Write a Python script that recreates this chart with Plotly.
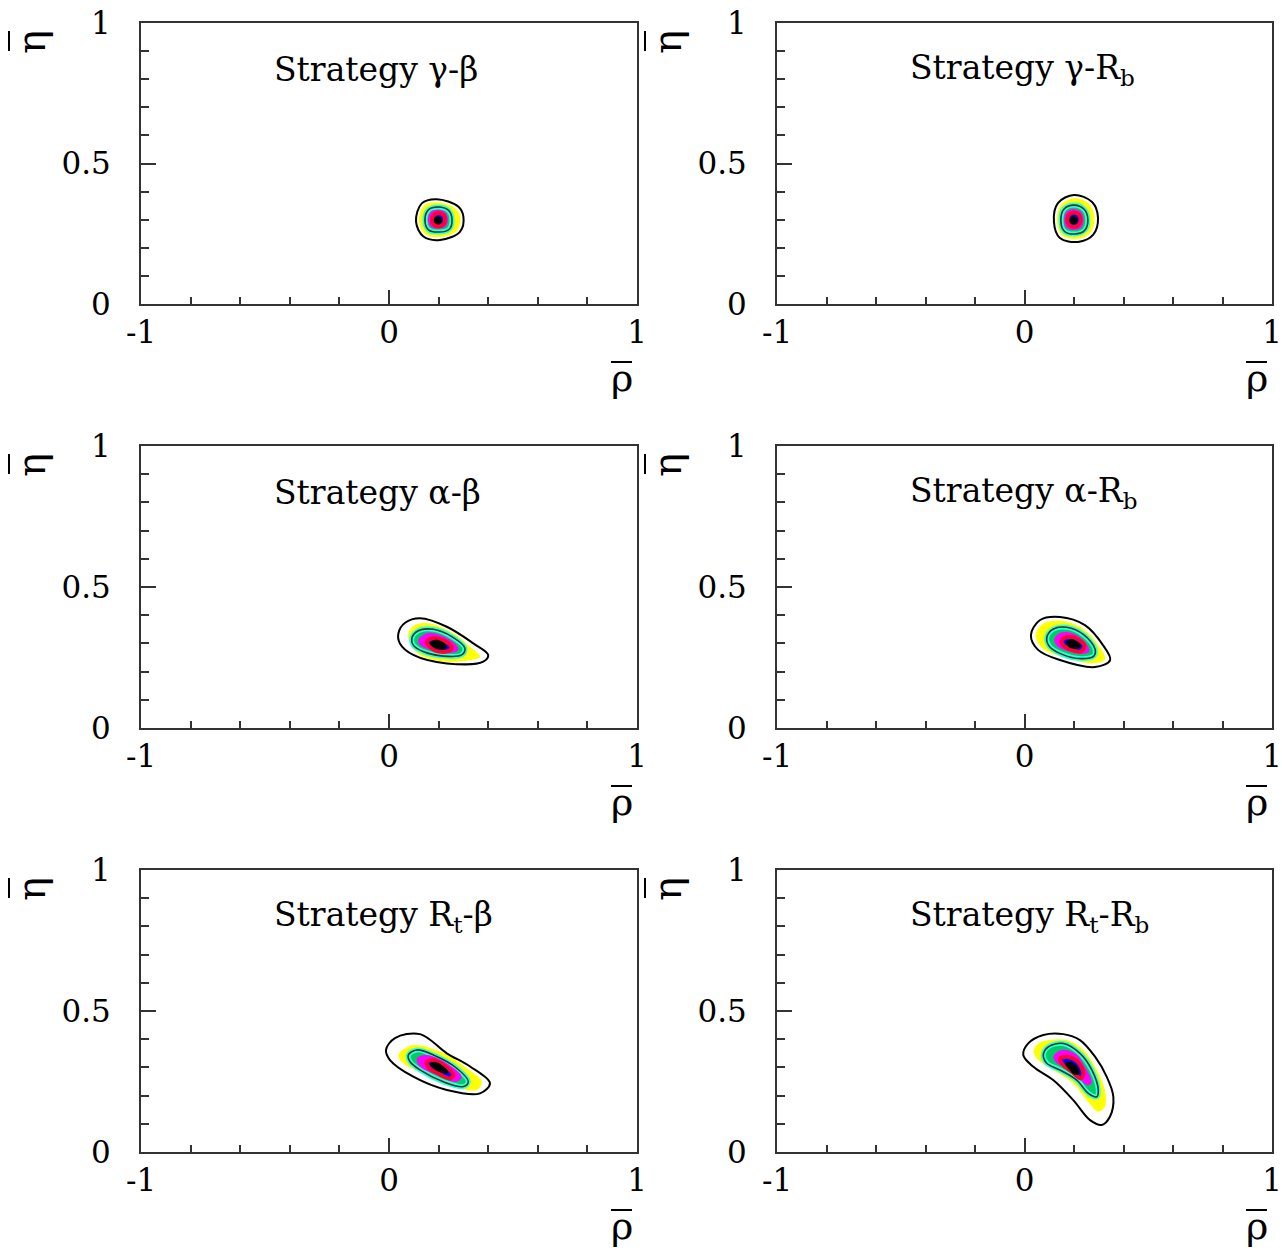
import plotly.graph_objects as go

# ---------------- data (data coordinates rho-bar / eta-bar) ----------------
titles = ["Strategy γ-β", "Strategy γ-R<sub>b</sub>",
          "Strategy α-β", "Strategy α-R<sub>b</sub>",
          "Strategy R<sub>t</sub>-β", "Strategy R<sub>t</sub>-R<sub>b</sub>"]

x_tickvals = [-1, 0, 1]
x_ticktext = ["-1", "0", "1"]
x_minor = [-0.8, -0.6, -0.4, -0.2, 0.2, 0.4, 0.6, 0.8]
y_tickvals = [0, 0.5, 1]
y_ticktext = ["0", "0.5", "1"]
y_minor = [0.1, 0.2, 0.3, 0.4, 0.6, 0.7, 0.8, 0.9]

# panel 1: gamma-beta
gb_outer = [(0.192, 0.373), (0.279, 0.347), (0.300, 0.311), (0.286, 0.257), (0.206, 0.228), (0.139, 0.240), (0.109, 0.293), (0.132, 0.358)]
gb_yellow = [(0.194, 0.362), (0.268, 0.340), (0.287, 0.309), (0.275, 0.262), (0.205, 0.238), (0.146, 0.249), (0.121, 0.294), (0.140, 0.350)]
gb_68 = [(0.198, 0.345), (0.240, 0.333), (0.254, 0.300), (0.243, 0.266), (0.200, 0.256), (0.158, 0.265), (0.145, 0.300), (0.158, 0.334)]
gb_mag = [(0.197, 0.335), (0.229, 0.325), (0.238, 0.300), (0.229, 0.276), (0.197, 0.268), (0.166, 0.277), (0.157, 0.302), (0.167, 0.326)]
gb_blue = [(0.199, 0.324), (0.220, 0.316), (0.226, 0.300), (0.219, 0.283), (0.199, 0.276), (0.179, 0.284), (0.173, 0.300), (0.180, 0.316)]
gb_core = [(0.197, 0.312), (0.211, 0.305), (0.214, 0.297), (0.207, 0.286), (0.196, 0.284), (0.184, 0.289), (0.180, 0.298), (0.186, 0.308)]

# panel 2: gamma-Rb
gr_outer = [(0.200, 0.388), (0.273, 0.363), (0.297, 0.306), (0.277, 0.246), (0.216, 0.221), (0.143, 0.235), (0.119, 0.292), (0.135, 0.359)]
gr_yellow = [(0.201, 0.376), (0.262, 0.355), (0.283, 0.304), (0.266, 0.254), (0.214, 0.232), (0.152, 0.245), (0.131, 0.294), (0.146, 0.350)]
gr_68 = [(0.200, 0.352), (0.241, 0.337), (0.256, 0.300), (0.243, 0.262), (0.202, 0.249), (0.160, 0.260), (0.147, 0.300), (0.160, 0.338)]
gr_mag = [(0.199, 0.338), (0.229, 0.327), (0.239, 0.300), (0.230, 0.272), (0.200, 0.263), (0.169, 0.272), (0.160, 0.300), (0.170, 0.328)]
gr_blue = [(0.200, 0.326), (0.220, 0.318), (0.227, 0.300), (0.220, 0.282), (0.200, 0.274), (0.180, 0.282), (0.173, 0.300), (0.180, 0.318)]
gr_core = [(0.199, 0.313), (0.212, 0.307), (0.215, 0.297), (0.208, 0.286), (0.197, 0.283), (0.185, 0.289), (0.181, 0.298), (0.187, 0.309)]

# panel 3: alpha-beta
ab_outer = [(0.038, 0.336), (0.065, 0.373), (0.125, 0.389), (0.233, 0.359), (0.340, 0.300), (0.400, 0.259), (0.380, 0.235), (0.233, 0.229), (0.098, 0.259), (0.044, 0.300)]
ab_yellow = [(0.078, 0.336), (0.105, 0.365), (0.165, 0.371), (0.260, 0.336), (0.327, 0.288), (0.367, 0.253), (0.327, 0.241), (0.233, 0.235), (0.125, 0.259), (0.085, 0.300)]
ab_68 = [(0.092, 0.318), (0.118, 0.345), (0.179, 0.350), (0.253, 0.324), (0.306, 0.283), (0.293, 0.259), (0.219, 0.255), (0.138, 0.271), (0.098, 0.294)]
ab_mag = [(0.118, 0.312), (0.152, 0.336), (0.206, 0.330), (0.266, 0.300), (0.280, 0.277), (0.233, 0.265), (0.165, 0.277), (0.125, 0.294)]
ab_blue = [(0.152, 0.305), (0.175, 0.318), (0.225, 0.308), (0.253, 0.285), (0.235, 0.272), (0.185, 0.275)]
ab_core = [(0.165, 0.302), (0.190, 0.313), (0.225, 0.300), (0.233, 0.285), (0.205, 0.278), (0.175, 0.288)]

# panel 4: alpha-Rb
ar_outer = [(0.026, 0.330), (0.063, 0.383), (0.143, 0.394), (0.244, 0.365), (0.317, 0.294), (0.346, 0.241), (0.285, 0.216), (0.143, 0.241), (0.055, 0.277)]
ar_yellow = [(0.045, 0.330), (0.075, 0.370), (0.145, 0.380), (0.235, 0.353), (0.300, 0.292), (0.325, 0.245), (0.280, 0.230), (0.150, 0.253), (0.070, 0.285)]
ar_68 = [(0.090, 0.320), (0.115, 0.350), (0.170, 0.357), (0.240, 0.330), (0.285, 0.280), (0.280, 0.255), (0.230, 0.246), (0.150, 0.262), (0.100, 0.290)]
ar_mag = [(0.120, 0.315), (0.145, 0.338), (0.195, 0.336), (0.245, 0.305), (0.262, 0.272), (0.230, 0.262), (0.175, 0.272), (0.130, 0.292)]
ar_blue = [(0.150, 0.310), (0.175, 0.323), (0.215, 0.315), (0.242, 0.290), (0.228, 0.272), (0.190, 0.277), (0.158, 0.292)]
ar_core = [(0.168, 0.305), (0.190, 0.315), (0.220, 0.302), (0.228, 0.288), (0.205, 0.280), (0.178, 0.288)]

# panel 5: Rt-beta
tb_outer = [(-0.012, 0.362), (0.024, 0.404), (0.125, 0.418), (0.233, 0.350), (0.327, 0.303), (0.407, 0.244), (0.367, 0.208), (0.233, 0.220), (0.098, 0.267), (0.004, 0.326)]
tb_yellow = [(0.038, 0.344), (0.098, 0.379), (0.206, 0.356), (0.313, 0.297), (0.374, 0.249), (0.354, 0.220), (0.260, 0.232), (0.138, 0.279), (0.058, 0.315)]
tb_68 = [(0.078, 0.344), (0.112, 0.362), (0.179, 0.344), (0.273, 0.297), (0.320, 0.249), (0.300, 0.232), (0.219, 0.249), (0.125, 0.291), (0.085, 0.320)]
tb_mag = [(0.112, 0.332), (0.152, 0.344), (0.233, 0.315), (0.293, 0.267), (0.273, 0.249), (0.192, 0.273), (0.125, 0.303)]
tb_blue = [(0.152, 0.318), (0.175, 0.326), (0.225, 0.305), (0.260, 0.272), (0.245, 0.261), (0.195, 0.280), (0.160, 0.300)]
tb_core = [(0.165, 0.312), (0.185, 0.320), (0.225, 0.300), (0.239, 0.282), (0.220, 0.279), (0.180, 0.295)]

# panel 6: Rt-Rb
tr_outer = [(-0.005, 0.344), (0.015, 0.385), (0.076, 0.415), (0.157, 0.418), (0.224, 0.397), (0.285, 0.338), (0.332, 0.267), (0.359, 0.196), (0.345, 0.125), (0.312, 0.096), (0.265, 0.113), (0.197, 0.184), (0.116, 0.255), (0.036, 0.302)]
tr_yellow = [(0.036, 0.356), (0.056, 0.385), (0.103, 0.397), (0.171, 0.397), (0.238, 0.362), (0.292, 0.291), (0.325, 0.220), (0.325, 0.161), (0.298, 0.143), (0.251, 0.184), (0.197, 0.244), (0.116, 0.291), (0.056, 0.326)]
tr_68 = [(0.076, 0.344), (0.096, 0.373), (0.157, 0.385), (0.224, 0.350), (0.272, 0.291), (0.298, 0.220), (0.292, 0.196), (0.258, 0.208), (0.211, 0.255), (0.143, 0.291), (0.090, 0.315)]
tr_mag = [(0.116, 0.338), (0.150, 0.362), (0.204, 0.350), (0.244, 0.303), (0.272, 0.244), (0.251, 0.238), (0.217, 0.267), (0.171, 0.297), (0.130, 0.315)]
tr_blue = [(0.143, 0.330), (0.170, 0.338), (0.215, 0.320), (0.238, 0.280), (0.228, 0.261), (0.195, 0.282), (0.155, 0.310)]
tr_core = [(0.164, 0.315), (0.185, 0.320), (0.215, 0.300), (0.224, 0.278), (0.205, 0.273), (0.175, 0.298)]

panels = [
    (gb_outer, gb_yellow, gb_68, gb_mag, gb_blue, gb_core),
    (gr_outer, gr_yellow, gr_68, gr_mag, gr_blue, gr_core),
    (ab_outer, ab_yellow, ab_68, ab_mag, ab_blue, ab_core),
    (ar_outer, ar_yellow, ar_68, ar_mag, ar_blue, ar_core),
    (tb_outer, tb_yellow, tb_68, tb_mag, tb_blue, tb_core),
    (tr_outer, tr_yellow, tr_68, tr_mag, tr_blue, tr_core),
]

# ---------------- layout geometry ----------------
W, H = 1282, 1259
col_px = [(141, 637), (777, 1272)]
row_px = [(23, 304), (446, 728), (870, 1152)]

FONT = "DejaVu Serif, Liberation Serif, serif"

fig = go.Figure()


def closed(pts):
    xs = [p[0] for p in pts] + [pts[0][0]]
    ys = [p[1] for p in pts] + [pts[0][1]]
    return xs, ys


annotations = []
shapes = []
for i, layers in enumerate(panels):
    r, c = divmod(i, 2)
    n = "" if i == 0 else str(i + 1)
    xa, ya = "x" + n, "y" + n
    outer, yel, c68, mag, blue, core = layers

    def add(pts, fillcolor=None, linecolor="rgba(0,0,0,0)", width=0):
        xs, ys = closed(pts)
        fig.add_trace(go.Scatter(
            x=xs, y=ys, xaxis=xa, yaxis=ya, mode="lines",
            fill="toself" if fillcolor else "none",
            fillcolor=fillcolor,
            line=dict(color=linecolor, width=width, shape="spline", smoothing=1.0),
            hoverinfo="skip", showlegend=False))

    add(yel, "#ffff00")
    add(c68, "#00cc66", "#33ffdd", 5)
    add(mag, "#ff00ff")
    add(blue, "#0000ff", "#ff0033", 4)
    add(core, "#000000")
    add(c68, None, "#0b3d2a", 1.6)
    add(outer, None, "#000000", 2)

    x0, x1 = col_px[c]
    y0, y1 = row_px[r]
    axis_common = dict(showgrid=False, zeroline=False, showline=True, linecolor="#333333",
                       linewidth=2, mirror=True, ticks="inside", tickcolor="#333333",
                       tickwidth=1.5, tickmode="array", automargin=False,
                       tickfont=dict(family=FONT, size=31, color="#000000"))
    fig.layout["xaxis" + n] = dict(
        axis_common, domain=[x0 / W, x1 / W], anchor=ya, range=[-1, 1],
        tickvals=x_tickvals, ticktext=x_ticktext, ticklen=14, ticklabelstandoff=0,
        minor=dict(tickmode="array", tickvals=x_minor, ticks="inside", ticklen=7,
                   tickcolor="#333333", tickwidth=1.5))
    fig.layout["yaxis" + n] = dict(
        axis_common, domain=[1 - y1 / H, 1 - y0 / H], anchor=xa, range=[0, 1],
        tickvals=y_tickvals, ticktext=y_ticktext, ticklen=15, ticklabelstandoff=22,
        minor=dict(tickmode="array", tickvals=y_minor, ticks="inside", ticklen=8,
                   tickcolor="#333333", tickwidth=1.5))

    annotations.append(dict(text=titles[i], xref=xa, yref=ya, x=-0.47, y=0.835,
                            xanchor="left", yanchor="middle", showarrow=False,
                            font=dict(family=FONT, size=33, color="#000000")))
    # axis titles (rho-bar below right, eta-bar rotated at top left)
    annotations.append(dict(text="ρ", xref="paper", yref="paper",
                            x=(x1 - 15) / W, y=1 - (y1 + 74) / H,
                            xanchor="center", yanchor="middle", showarrow=False,
                            font=dict(family=FONT, size=38, color="#000000")))
    shapes.append(dict(type="line", xref="paper", yref="paper",
                       x0=(x1 - 26) / W, x1=(x1 - 5) / W,
                       y0=1 - (y1 + 58) / H, y1=1 - (y1 + 58) / H,
                       line=dict(color="#000000", width=2)))
    annotations.append(dict(text="η", xref="paper", yref="paper", textangle=-90,
                            x=(x0 - 110) / W, y=1 - (y0 + 19) / H,
                            xanchor="center", yanchor="middle", showarrow=False,
                            font=dict(family=FONT, size=40, color="#000000")))
    shapes.append(dict(type="line", xref="paper", yref="paper",
                       x0=(x0 - 132) / W, x1=(x0 - 132) / W,
                       y0=1 - (y0 + 8) / H, y1=1 - (y0 + 28) / H,
                       line=dict(color="#000000", width=2)))

fig.update_layout(width=W, height=H, margin=dict(l=0, r=0, t=0, b=0, autoexpand=False),
                  paper_bgcolor="white", plot_bgcolor="white",
                  annotations=annotations, shapes=shapes, showlegend=False)

fig.write_html("out.html")
